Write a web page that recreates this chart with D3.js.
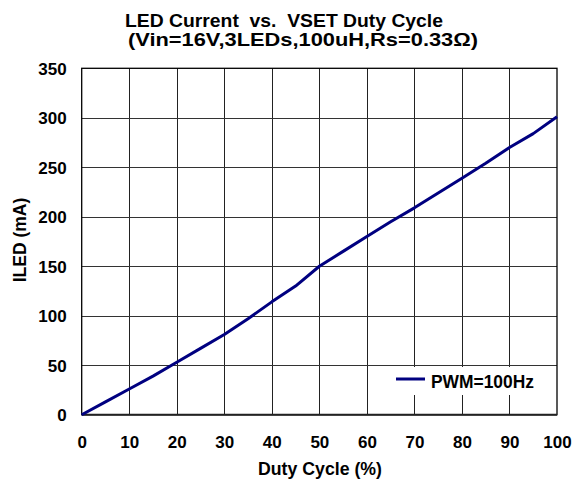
<!DOCTYPE html>
<html><head><meta charset="utf-8">
<script src="https://cdn.jsdelivr.net/npm/d3@7"></script>
<style>body{margin:0;background:#fff}svg{display:block}text{font-family:"Liberation Sans",Arial,sans-serif;font-weight:bold;fill:#000}</style>
</head><body><svg id="c" width="576" height="487"></svg>
<script>
const duty = [0,5,10,15,20,25,30,35,40,45,50,55,60,65,70,75,80,85,90,95,100];
const iled = [0,13,26,39,53,67,81,97,114,130,150,165,180,195,209,224,239,254,270,284,301];
const xTicks = [0,10,20,30,40,50,60,70,80,90,100];
const yTicks = [0,50,100,150,200,250,300,350];
const titleLines = ["LED Current  vs.  VSET Duty Cycle","(Vin=16V,3LEDs,100uH,Rs=0.33\u03A9)"];
const seriesName = "PWM=100Hz";

const svg = d3.select("#c");
const L=81.7,R=557,T=68.3,B=414.7;
const x = d3.scaleLinear().domain([0,100]).range([L,R]);
const y = d3.scaleLinear().domain([0,350]).range([B,T]);

// grid
svg.append("g").selectAll("line").data(xTicks.slice(1,-1)).join("line")
  .attr("x1",d=>Math.round(x(d))+0.5).attr("x2",d=>Math.round(x(d))+0.5)
  .attr("y1",T).attr("y2",B).attr("stroke","#222").attr("stroke-width",1);
svg.append("g").selectAll("line").data(yTicks.slice(1,-1)).join("line")
  .attr("y1",d=>Math.round(y(d))+0.5).attr("y2",d=>Math.round(y(d))+0.5)
  .attr("x1",L).attr("x2",R).attr("stroke","#333").attr("stroke-width",1);

// legend background
svg.append("rect").attr("x",392).attr("y",367).attr("width",R-392-1).attr("height",28).attr("fill","#fff");

// frame
svg.append("rect").attr("x",L).attr("y",T).attr("width",R-L).attr("height",B-T)
  .attr("fill","none").attr("stroke","#000").attr("stroke-width",1.3);
svg.append("line").attr("x1",L).attr("x2",R).attr("y1",B).attr("y2",B).attr("stroke","#222").attr("stroke-width",2);

// axes via d3
const xa = svg.append("g").attr("transform",`translate(0,${B})`)
  .call(d3.axisBottom(x).tickValues(xTicks).tickSize(0).tickPadding(33).tickFormat(d3.format("d")));
xa.select(".domain").remove();
xa.selectAll("text").attr("font-size",17).attr("font-family","Liberation Sans, Arial, sans-serif").attr("font-weight","bold").attr("fill","#000").attr("dy","0");
const ya = svg.append("g").attr("transform",`translate(${L},0)`)
  .call(d3.axisLeft(y).tickValues(yTicks).tickSize(0).tickPadding(15).tickFormat(d3.format("d")));
ya.select(".domain").remove();
ya.selectAll("text").attr("font-size",17).attr("font-family","Liberation Sans, Arial, sans-serif").attr("font-weight","bold").attr("fill","#000").attr("dy","0.36em");

// line
svg.append("path").datum(duty.map((d,i)=>[d,iled[i]]))
  .attr("d",d3.line().x(d=>x(d[0])).y(d=>y(d[1])))
  .attr("fill","none").attr("stroke","#000080").attr("stroke-width",3).attr("stroke-linejoin","round");

// legend
svg.append("line").attr("x1",396).attr("x2",425).attr("y1",379).attr("y2",379).attr("stroke","#000080").attr("stroke-width",3);
svg.append("text").attr("x",431).attr("y",388).attr("font-size",17.5).attr("textLength",103).attr("lengthAdjust","spacingAndGlyphs").text(seriesName);

// titles
svg.append("text").attr("x",125).attr("y",26.5).attr("font-size",19).attr("textLength",318).attr("lengthAdjust","spacingAndGlyphs").style("white-space","pre").text(titleLines[0]);
svg.append("text").attr("x",128).attr("y",46).attr("font-size",19).attr("textLength",350).attr("lengthAdjust","spacingAndGlyphs").text(titleLines[1]);
svg.append("text").attr("x",258).attr("y",475).attr("font-size",17.5).attr("textLength",124).attr("lengthAdjust","spacingAndGlyphs").text("Duty Cycle (%)");
svg.append("text").attr("transform","translate(26,240) rotate(-90)").attr("text-anchor","middle").attr("font-size",17.5).text("ILED (mA)");
</script></body></html>
